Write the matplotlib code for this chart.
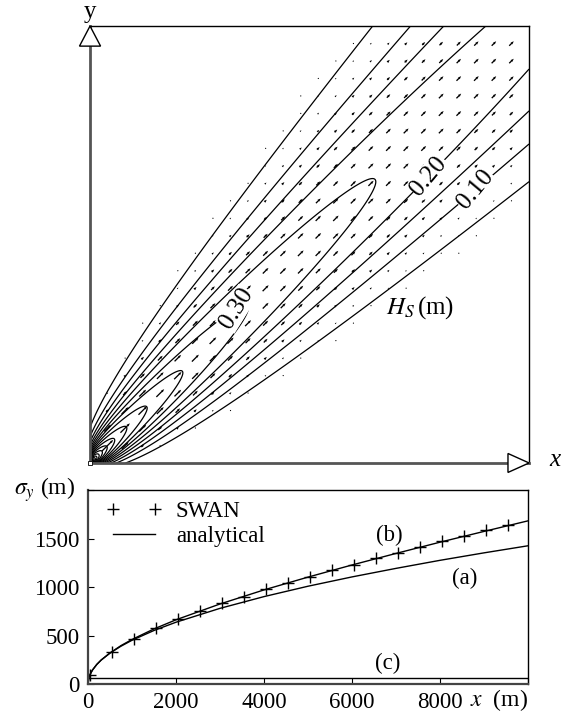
import numpy as np
import matplotlib.pyplot as plt
from matplotlib.patches import Polygon

plt.rcParams['font.family'] = ['Liberation Serif', 'DejaVu Serif']
plt.rcParams['mathtext.fontset'] = 'stix'
plt.rcParams['font.size'] = 16.5

# beam width computed by SWAN along the propagation direction
x_swan = np.array([50, 550, 1050, 1550, 2050, 2550, 3050, 3550, 4050, 4550,
                   5050, 5550, 6050, 6550, 7050, 7550, 8050, 8550, 9050, 9550])
sig_swan = np.array([93, 333, 460, 573, 666, 755, 834, 900, 975, 1037,
                     1105, 1174, 1232, 1294, 1353, 1414, 1473, 1524, 1586, 1644])

# analytical solutions (a), (b), (c)
x_an = np.array([0, 20, 50, 100, 200, 300, 500, 750, 1000, 1500, 2000, 3000,
                 4000, 5000, 6000, 7000, 8000, 9000, 10000])
sig_a = np.array([0, 64, 101, 143, 202, 247, 319, 390, 451, 552, 637, 780,
                  901, 1008, 1104, 1192, 1275, 1352, 1425])
sig_b = np.array([0, 64, 101, 143, 202, 248, 320, 396, 459, 568, 662, 825,
                  970, 1102, 1227, 1346, 1462, 1573, 1682])
x_c = np.array([0, 10000])
sig_c = np.array([60, 60])

# Hs contours
hs_levels = np.round(np.arange(0.05, 3.001, 0.05), 2)
hs_labelled = [0.10, 0.20, 0.30]
label_pos = [(8747, 6293), (7699, 6590), (3326, 3547)]
label_rot = [50, 50, 58]
hs_source = 10.0      # Hs * sqrt(sigma) on the beam axis
width_ratio = 0.77    # transverse e-folding width / sigma_y

# sigma^2 = p1*s + p2*s^2 fitted to the SWAN points
A = np.column_stack([x_swan, x_swan**2.0])
p1, p2 = np.linalg.lstsq(A, sig_swan**2.0, rcond=None)[0]


def hs_field(x, y):
    s = np.maximum((x + y) / np.sqrt(2), 1.0)
    n = (y - x) / np.sqrt(2)
    sig = np.sqrt(p1 * s + p2 * s**2)
    w = width_ratio * sig
    return hs_source / np.sqrt(sig) * np.exp(-n**2 / (2 * w**2))


fig = plt.figure(figsize=(5.63, 7.17), dpi=100)

# ---- top: Hs map with transport vectors
ax = fig.add_axes([0.1599, 0.3543, 0.7798, 0.6094])
g = np.linspace(0, 10000, 1001)
X, Y = np.meshgrid(g, g)
H = hs_field(X, Y)
other = [v for v in hs_levels if not np.any(np.isclose(v, hs_labelled))]
ax.contour(X, Y, H, levels=other, colors='k', linewidths=0.9)
cs = ax.contour(X, Y, H, levels=hs_labelled, colors='k', linewidths=0.9)
texts = ax.clabel(cs, manual=label_pos, inline=False, fmt='%.2f',
                  fontsize=18)
for t in texts:
    # labels read along the beam, on a white patch over the line
    k = int(np.argmin([abs(float(t.get_text()) - v) for v in hs_labelled]))
    t.set_rotation(label_rot[k])
    t.set_bbox(dict(fc='white', ec='none', pad=0.3))
    t.set_zorder(5)

q = np.arange(400, 10000, 400)
QX, QY = np.meshgrid(q, q)
QH = hs_field(QX, QY)
keep = QH > 0.03
ax.quiver(QX[keep], QY[keep], QH[keep] / np.sqrt(2), QH[keep] / np.sqrt(2),
          angles='xy', scale_units='xy', scale=0.0015, pivot='middle',
          width=0.003, headwidth=2.0, headlength=2.5, headaxislength=2.3,
          color='k', zorder=2)
ax.plot([0], [0], 's', ms=3, mfc='white', mec='k', mew=0.6, clip_on=False,
        zorder=6)

ax.set_xlim(0, 10000)
ax.set_ylim(0, 10000)
ax.set_xticks([])
ax.set_yticks([])
for side in ['top', 'right']:
    ax.spines[side].set_linewidth(1.0)
for side in ['left', 'bottom']:
    ax.spines[side].set_linewidth(2.0)
    ax.spines[side].set_color('#555555')

# axis arrows
tri_y = Polygon([[0, 1], [-0.024, 0.954], [0.024, 0.954]], closed=True,
                transform=ax.transAxes, clip_on=False, fc='white', ec='k',
                lw=1.0, zorder=7)
tri_x = Polygon([[1, 0], [0.952, 0.0217], [0.952, -0.0217]], closed=True,
                transform=ax.transAxes, clip_on=False, fc='white', ec='k',
                lw=1.0, zorder=7)
ax.add_patch(tri_y)
ax.add_patch(tri_x)
ax.text(0.0, 1.032, 'y', transform=ax.transAxes, ha='center', va='center',
        fontsize=18)
ax.text(1.059, 0.007, 'x', transform=ax.transAxes, ha='center',
        va='center', fontsize=18, style='italic')
ax.text(7517, 3547, r'$H_S\,$(m)', ha='center', va='center', fontsize=18)

# ---- bottom: beam width sigma_y
ax2 = fig.add_axes([0.1563, 0.0460, 0.7815, 0.2706])
ax2.plot(x_swan, sig_swan, 'k+', ms=8, mew=1.0, label='SWAN')
ax2.plot(x_an, sig_b, 'k-', lw=1.0, label='analytical')
ax2.plot(x_an, sig_a, 'k-', lw=1.0)
ax2.plot(x_c, sig_c, 'k-', lw=1.0)

ax2.set_xlim(0, 10000)
ax2.set_ylim(0, 2000)
ax2.set_xticks([0, 2000, 4000, 6000, 8000, 10000])
ax2.set_xticklabels(['0', '2000', '4000', '6000', '8000', ''])
ax2.set_yticks([0, 500, 1000, 1500, 2000])
ax2.set_yticklabels(['0', '500', '1000', '1500', ''])
ax2.tick_params(direction='in', length=4, labelsize=16.5, pad=6)
for side in ax2.spines:
    ax2.spines[side].set_linewidth(1.0)
for side in ['left', 'bottom']:
    ax2.spines[side].set_linewidth(1.6)
    ax2.spines[side].set_color('#444444')

ax2.text(-0.03, 2000, r'$\sigma_y$ (m)', transform=ax2.get_yaxis_transform(),
         ha='right', va='center', fontsize=17)
ax2.text(1.0, -0.085, r'$x$  (m)', transform=ax2.transAxes, ha='right',
         va='center', fontsize=17)
ax2.text(6841, 1536, '(b)', ha='center', va='center', fontsize=16.5)
ax2.text(8568, 1093, '(a)', ha='center', va='center', fontsize=16.5)
ax2.text(6818, 216, '(c)', ha='center', va='center', fontsize=16.5)

ax2.legend(loc='upper left', bbox_to_anchor=(0.015, 1.0), frameon=False,
           numpoints=2, handlelength=2.45, handletextpad=0.6,
           borderpad=0, labelspacing=0.15, fontsize=16.5)

fig.savefig('out.png', dpi=100)
